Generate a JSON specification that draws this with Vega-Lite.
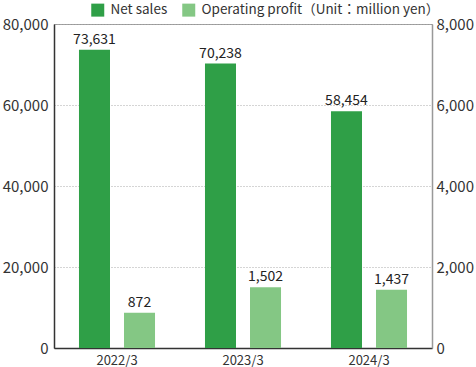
{
  "$schema": "https://vega.github.io/schema/vega-lite/v6.json",
  "width": 378,
  "height": 324,
  "autosize": {"type": "none"},
  "padding": {"left": 54, "top": 24, "right": 44, "bottom": 19},
  "config": {
    "font": "Noto Sans CJK JP",
    "view": {"stroke": "#999999", "strokeWidth": 1},
    "axis": {"labelColor": "#333333", "labelFont": "Noto Sans CJK JP"}
  },
  "data": {
    "values": [
      {"year": "2022/3", "series": "Net sales", "value": 73631},
      {"year": "2023/3", "series": "Net sales", "value": 70238},
      {"year": "2024/3", "series": "Net sales", "value": 58454},
      {"year": "2022/3", "series": "Operating profit", "value": 872},
      {"year": "2023/3", "series": "Operating profit", "value": 1502},
      {"year": "2024/3", "series": "Operating profit", "value": 1437}
    ]
  },
  "encoding": {
    "x": {
      "field": "year", "type": "nominal", "title": null,
      "scale": {"paddingInner": 0, "paddingOuter": 0},
      "axis": {"labelAngle": 0, "ticks": false, "labelFontSize": 13, "labelPadding": 6, "domainColor": "#333333", "domainWidth": 1.5}
    },
    "xOffset": {
      "field": "series", "type": "nominal",
      "scale": {"domain": ["Net sales", "Operating profit"], "paddingInner": 0.311, "paddingOuter": 0.555}
    }
  },
  "layer": [
    {
      "transform": [{"filter": "datum.series === 'Net sales'"}],
      "encoding": {
        "y": {
          "field": "value", "type": "quantitative", "title": null,
          "scale": {"domain": [0, 80000], "nice": false},
          "axis": {"orient": "left", "values": [0, 20000, 40000, 60000, 80000], "format": ",.0f", "ticks": false, "labelFontSize": 15, "labelPadding": 6, "domainColor": "#333333", "domainWidth": 1.5, "grid": true, "gridDash": [1, 2], "gridColor": "#aaaaaa", "labelBaseline": "middle"}
        }
      },
      "layer": [
        {
          "mark": {"type": "bar"},
          "encoding": {
            "color": {
              "field": "series", "type": "nominal",
              "scale": {"domain": ["Net sales", "Operating profit"], "range": ["#2f9f47", "#84c784"]},
              "legend": {
                "title": null, "orient": "none", "legendX": 37, "legendY": -21, "direction": "horizontal",
                "symbolType": "square", "symbolSize": 169, "symbolStrokeWidth": 0, "labelFontSize": 13.5, "labelColor": "#333333",
                "columnPadding": 14, "labelOffset": 6, "labelLimit": 400, "padding": 0,
                "labelExpr": "datum.label === 'Operating profit' ? 'Operating profit（Unit：million yen）' : datum.label"
              }
            }
          }
        },
        {
          "mark": {"type": "text", "baseline": "bottom", "dy": -3, "fontSize": 14, "color": "#222222"},
          "encoding": {"text": {"field": "value", "type": "quantitative", "format": ",.0f"}}
        }
      ]
    },
    {
      "transform": [{"filter": "datum.series === 'Operating profit'"}],
      "encoding": {
        "y": {
          "field": "value", "type": "quantitative", "title": null,
          "scale": {"domain": [0, 8000], "nice": false},
          "axis": {"orient": "right", "values": [0, 2000, 4000, 6000, 8000], "format": ",.0f", "ticks": false, "labelFontSize": 15, "labelPadding": 4, "domainColor": "#999999", "domainWidth": 1.5, "grid": false}
        }
      },
      "layer": [
        {
          "mark": {"type": "bar"},
          "encoding": {
            "color": {"field": "series", "type": "nominal"}
          }
        },
        {
          "mark": {"type": "text", "baseline": "bottom", "dy": -3, "fontSize": 14, "color": "#222222"},
          "encoding": {"text": {"field": "value", "type": "quantitative", "format": ",.0f"}}
        }
      ]
    }
  ],
  "resolve": {"scale": {"y": "independent"}}
}
